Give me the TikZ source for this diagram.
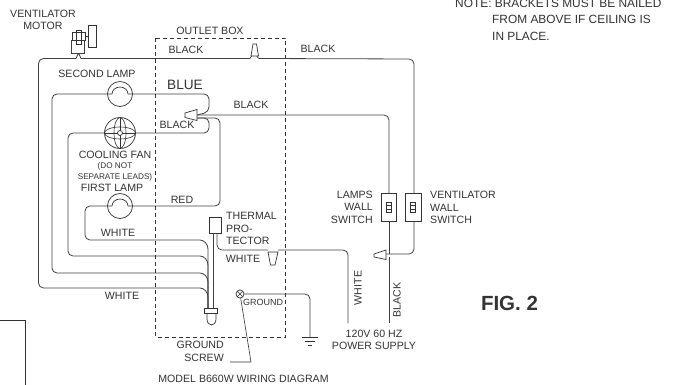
\documentclass[tikz,border=0pt]{standalone}
\usepackage{fontspec}
\setmainfont{Liberation Sans}
\usetikzlibrary{calc}

\begin{document}
\begin{tikzpicture}
	[   x=1pt,y=-1pt,
	    lbl/.style={font=\fontsize{10.6}{12}\selectfont,text=black!80,inner sep=0pt},
	    note lbl/.style={font=\fontsize{11.9}{13}\selectfont,text=black!80,inner sep=0pt,anchor=west},
	    tiny lbl/.style={font=\fontsize{8.2}{9}\selectfont,text=black!80,inner sep=0pt},
	    cnode/.style={draw=black!80,fill=white,line width=0.7pt,circle,inner sep=0pt,minimum size=#1},
	    swnode/.style={draw=black!80,fill=white,inner sep=0pt,minimum width=#1,minimum height=28pt},
	]
	\tikzset{wire/.style={draw=black!75,line width=0.8pt,rounded corners=5pt},
		nut/.style={draw=black!80,line width=0.7pt,fill=white}}
	\useasboundingbox (0,0) rectangle (673,385);
	
	% outlet box and the cut off frame
	\draw[black!80,line width=0.7pt,dash pattern=on 4pt off 3pt] (155.5,38) rectangle (285.5,337);
	\draw[black!80,line width=0.6pt] (0,320.5) -- (25.5,320.5) -- (25.5,385);
	
	\coordinate (gnd-post) at (208,308);
	\coordinate (gnd-post2) at (213,308);
	\coordinate (nut-in) at (197,115);
	\coordinate (top-nut-l) at (250,58.5);
	\coordinate (top-nut-r) at (258.5,58.5);
	\coordinate (sw-nut) at (386,254);
	\coordinate (supply-white) at (348,323);
	\coordinate (supply-black) at (389,323);
	\coordinate (earth) at (310,337);
	
	\node[cnode=25pt] (lamp-2) at (120,94) {};
	\node[cnode=31pt] (fan) at (120,133) {};
	\node[cnode=25pt] (lamp-1) at (120,206) {};
	\node[draw=black!80,fill=white,minimum width=12pt,minimum height=16pt,inner sep=0pt] (thermal) at (215,225) {};
	\node[swnode=15pt] (sw-lamps) at (388.5,207) {};
	\node[swnode=16pt] (sw-vent) at (413,207) {};
	\node[cnode=8pt] (gnd) at (240,294) {};
	
	% wires
	\draw[wire] (lamp-2.west) -- (52,94) -- (52,273) -- (195,273) .. controls (204,273) and (208,277) .. (208,287) -- (gnd-post);
	\draw[wire] (lamp-2.east) -- (209,94) -- (209,112) -- (nut-in);
	\draw[wire] (fan.west) -- (68,133) -- (68,256) -- (195,256) .. controls (204,256) and (208,260) .. (208,270) -- (gnd-post);
	\draw[wire] (fan.east) -- (209,133) -- (209,118) -- (nut-in|-0,118);
	\draw[wire] (lamp-1.west) -- (85,206) -- (85,240) -- (195,240) .. controls (204,240) and (208,244) .. (208,254) -- (gnd-post);
	\draw[wire] (lamp-1.east) -- (220,206) -- (220,118) -- (nut-in|-0,118);
	\draw[wire] (76,58.5) -- (38.5,58.5) -- (38.5,288) -- (195,288) .. controls (204,288) and (208,292) .. (208,302) -- (gnd-post);
	\draw[wire] (nut-in) -- (389,115) -- (sw-lamps.north-|389,0);
	\draw[wire] (sw-vent.north-|414,0) -- (414,59) -- (top-nut-r);
	\draw[wire] (top-nut-l) -- (81,58.5);
	\draw[wire,rounded corners=1pt] (top-nut-l) -- (252,55.5) (256.5,55.5) -- (top-nut-r);
	\draw[wire] (sw-lamps.south-|389,0) -- (sw-nut-|389,0);
	\draw[wire] (sw-vent.south-|414,0) -- (414,254) -- (sw-nut);
	\draw[wire] (389,257) -- (supply-black);
	\draw[wire] (thermal.south-|217,0) -- (217,250) -- (268,250);
	\draw[wire] (thermal.south-|213,0) -- (gnd-post2);
	\draw[wire] (278,250) -- (348,250) -- (supply-white);
	\draw[wire] (gnd) -- (310,294) -- (earth);
	\draw[black!80,line width=0.6pt] (gnd) -- (251,362) -- (230,362);
	
	% lamps and fan
	\foreach \n in {lamp-2,lamp-1}
	{
		\draw[black!80,line width=0.7pt] ($(\n)+(-12.5,0)$) -- ($(\n)+(-8,0)$) arc[start angle=180,end angle=0,x radius=8,y radius=-7] -- ($(\n)+(12.5,0)$);
	}
	\draw[black!80,line width=0.7pt] (fan.west) -- (fan.east) (fan.north) -- (fan.south);
	\draw[black!80,line width=0.6pt] (fan) ellipse (15.5 and 6) (fan) ellipse (6 and 15.5);
	\node[cnode=5pt] (fan-hub) at (fan) {};
	\draw[black!80,line width=0.6pt] (gnd.north west) -- (gnd.south east) (gnd.north east) -- (gnd.south west);
	
	% motor
	\node[draw=black!80,fill=white,inner sep=0pt,minimum width=8pt,minimum height=22pt] (cap) at (92.5,36) {};
	\node[draw=black!80,inner sep=0pt,minimum width=13pt,minimum height=8pt] (motor) at (78.5,36) {};
	\node[draw=black!80,inner sep=0pt,minimum width=5pt,minimum height=14pt] (motor-in) at (79,37) {};
	\draw[black!80,line width=0.6pt] (motor) -- (cap);
	\draw[wire,rounded corners=0pt] (71.5,40) -- (71.5,53) -- (84.5,53) -- (84.5,40);
	\draw[wire,rounded corners=1pt] (76,58.5) -- (78,54) (79,54) -- (81,58.5);
	
	% wire nuts
	\draw[nut] (185,113) -- (197,109.5) -- (197,120.5) -- (185,117.5) -- cycle;
	\draw[nut] (251,56) -- (253,44) -- (256.5,44) -- (258.5,56) -- cycle;
	\draw[nut] (374,254) -- (386,250) -- (386,259.5) -- (374,257) -- cycle;
	\draw[nut] (268,252) -- (278,252) -- (275,265) -- (270.5,265) -- cycle;
	
	% ground post
	\draw[nut] (207,313) -- (207,319) .. controls (207,327) and (216,327) .. (216,319) -- (216,313);
	\draw[nut] (204,308) rectangle (217,313.5);
	
	% earth symbol
	\foreach \y/\w in {0/8,4/5,8/2}
	{
		\draw[black!80,line width=0.6pt] ($(earth)+(-\w,\y)$) -- ($(earth)+(\w,\y)$);
	}
	
	% switch levers
	\foreach \s/\c in {sw-lamps/388.5,sw-vent/413}
	{
		\draw[black!80,line width=0.5pt] (\c-2.5,202) rectangle (\c+2.5,212) (\c-2.5,205.5) -- (\c+2.5,205.5) (\c-2.5,209) -- (\c+2.5,209);
	}
	
	% labels
	\node[lbl,align=center] (l-motor) at (43,20) {VENTILATOR\\MOTOR};
	\node[lbl] (l-box) at (210,31) {OUTLET BOX};
	\node[lbl] (l-b1) at (186,50) {BLACK};
	\node[lbl] (l-b2) at (318,49) {BLACK};
	\node[lbl] (l-lamp2) at (97,74) {SECOND LAMP};
	\node[font=\fontsize{13.6}{15}\selectfont,text=black!80,inner sep=0pt] (l-blue) at (185,84.5) {BLUE};
	\node[lbl] (l-b3) at (251,105) {BLACK};
	\node[lbl] (l-b4) at (177,125) {BLACK};
	\node[lbl] (l-fan) at (115,155) {COOLING FAN};
	\node[tiny lbl] (l-not) at (115,166) {(DO NOT};
	\node[tiny lbl] (l-sep) at (115,177) {SEPARATE LEADS)};
	\node[lbl] (l-lamp1) at (112,188) {FIRST LAMP};
	\node[lbl] (l-red) at (182,200) {RED};
	\node[lbl] (l-w1) at (118,233) {WHITE};
	\node[lbl] (l-w2) at (122,296) {WHITE};
	\node[lbl] (l-w3) at (243,259) {WHITE};
	\node[lbl,anchor=west,align=left,font=\fontsize{10.6}{12.5}\selectfont] (l-thermal) at (226,228.5) {THERMAL\\PRO-\\TECTOR};
	\node[lbl,anchor=east,align=right,font=\fontsize{10.6}{12.5}\selectfont] (l-swl) at (373,207) {LAMPS\\WALL\\SWITCH};
	\node[lbl,anchor=west,align=left,font=\fontsize{10.6}{12.5}\selectfont] (l-swv) at (430,207.5) {VENTILATOR\\WALL\\SWITCH};
	\node[lbl,rotate=90] (l-w4) at (358,288) {WHITE};
	\node[lbl,rotate=90] (l-b5) at (397,300) {BLACK};
	\node[lbl,align=center,font=\fontsize{10.6}{12}\selectfont] (l-supply) at (374,340) {120V 60 HZ\\POWER SUPPLY};
	\node[font=\fontsize{9}{10}\selectfont,text=black!80,inner sep=0pt] (l-gnd) at (263,302.5) {GROUND};
	\node[lbl,anchor=east,align=right,font=\fontsize{10.6}{13}\selectfont] (l-screw) at (224,351.5) {GROUND\\SCREW};
	\node[lbl] (l-model) at (243.5,379) {MODEL B660W WIRING DIAGRAM};
	\node[font=\bfseries\fontsize{20.5}{22}\selectfont,text=black!80,inner sep=0pt] (l-fig) at (509.5,303) {FIG. 2};
	\node[note lbl] (l-note) at (455,3) {NOTE: BRACKETS MUST BE NAILED};
	\node[note lbl] (l-note2) at (492,19) {FROM ABOVE IF CEILING IS};
	\node[note lbl] (l-note3) at (492,36) {IN PLACE.};
\end{tikzpicture}
\end{document}
